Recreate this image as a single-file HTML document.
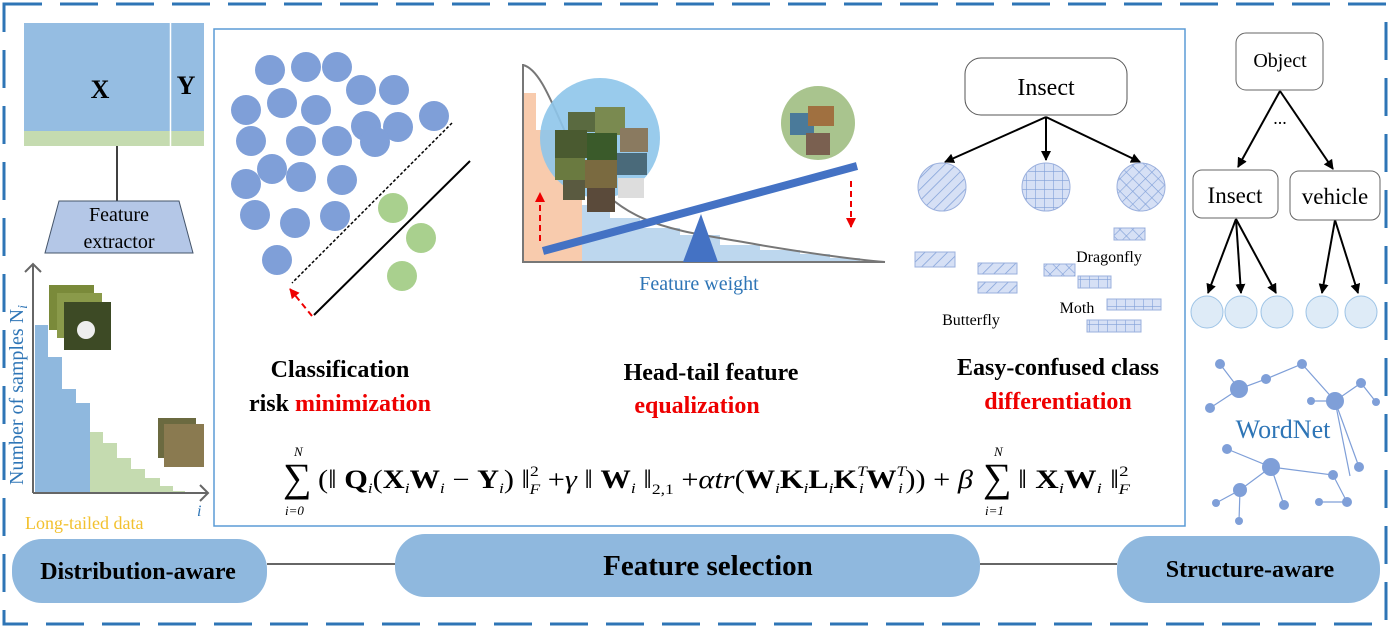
<!DOCTYPE html><html><head><meta charset="utf-8"><style>body{margin:0;background:#fff}svg{display:block;font-family:"Liberation Serif",serif}</style></head><body>
<svg width="1390" height="629" viewBox="0 0 1390 629" xmlns="http://www.w3.org/2000/svg">
<defs>
<pattern id="hd" width="8" height="8" patternUnits="userSpaceOnUse" patternTransform="rotate(45)"><rect width="8" height="8" fill="#d6e0f5"/><line x1="0" y1="0" x2="0" y2="8" stroke="#7f9fd8" stroke-width="1.5"/></pattern>
<pattern id="hg" width="9" height="9" patternUnits="userSpaceOnUse"><rect width="9" height="9" fill="#d6e0f5"/><path d="M0 0H9M0 0V9" stroke="#7f9fd8" stroke-width="1.2"/></pattern>
<pattern id="hx" width="9" height="9" patternUnits="userSpaceOnUse" patternTransform="rotate(45)"><rect width="9" height="9" fill="#d6e0f5"/><path d="M0 0H9M0 0V9" stroke="#7f9fd8" stroke-width="1.2"/></pattern>
<marker id="ak" markerWidth="10" markerHeight="10" refX="9" refY="5" orient="auto" markerUnits="userSpaceOnUse"><path d="M0 0L10 5L0 10z" fill="#000"/></marker>
<marker id="ar" markerWidth="10" markerHeight="10" refX="9" refY="5" orient="auto" markerUnits="userSpaceOnUse"><path d="M0 0L10 5L0 10z" fill="#e00"/></marker>
</defs>
<rect x="4" y="4" width="1382" height="620" fill="none" stroke="#2e75b6" stroke-width="3" stroke-dasharray="38,18"/>
<rect x="214" y="29" width="971" height="497" fill="none" stroke="#5b9bd5" stroke-width="1.5"/>
<rect x="24" y="23" width="180" height="123" fill="#95bde2"/>
<rect x="24" y="131" width="180" height="15" fill="#c5dbb0"/>
<line x1="170.5" y1="23" x2="170.5" y2="146" stroke="#fff" stroke-width="1.5"/>
<text x="100" y="98" font-size="26" font-weight="bold" text-anchor="middle">X</text>
<text x="186" y="94" font-size="26" font-weight="bold" text-anchor="middle">Y</text>
<line x1="117" y1="146" x2="117" y2="201" stroke="#000" stroke-width="1.5"/>
<path d="M59 201H179L193 253H45Z" fill="#b4c7e7" stroke="#44546a"/>
<text x="119" y="221" font-size="20" text-anchor="middle">Feature</text>
<text x="119" y="248" font-size="20" text-anchor="middle">extractor</text>
<path d="M35 493V325H48V357H62V389H76V403H90V493Z" fill="#8fb8de"/>
<path d="M90 493V432H103V443H117V458H131V469H145V478H160V486H173V491H185V493Z" fill="#c5dbb0"/>
<path d="M33 493V264M25 272L33 264L41 272M33 493H208M200 485L208 493L200 501" fill="none" stroke="#666" stroke-width="2"/>
<rect x="49" y="285" width="45" height="45" fill="#7a8a3a"/><rect x="57" y="293" width="45" height="45" fill="#8a9a4a"/><rect x="64" y="302" width="47" height="48" fill="#3d4a25"/><circle cx="86" cy="330" r="9" fill="#eee"/>
<rect x="158" y="418" width="38" height="40" fill="#6b6a40"/><rect x="164" y="424" width="40" height="43" fill="#8a7a50"/>
<text transform="translate(23,485) rotate(-90)" font-size="20" fill="#2e75b6">Number of samples N<tspan font-style="italic" font-size="14" dy="4">i</tspan></text>
<text x="197" y="516" font-size="16" font-style="italic" fill="#2e75b6">i</text>
<text x="25" y="529" font-size="18" fill="#f2c12e">Long-tailed data</text>
<g fill="#7f9fd8">
<circle cx="270" cy="70" r="15"/><circle cx="306" cy="67" r="15"/><circle cx="337" cy="67" r="15"/><circle cx="361" cy="90" r="15"/><circle cx="394" cy="90" r="15"/><circle cx="246" cy="110" r="15"/><circle cx="282" cy="103" r="15"/><circle cx="316" cy="110" r="15"/><circle cx="366" cy="126" r="15"/><circle cx="398" cy="127" r="15"/><circle cx="375" cy="142" r="15"/><circle cx="434" cy="116" r="15"/><circle cx="251" cy="141" r="15"/><circle cx="301" cy="141" r="15"/><circle cx="337" cy="141" r="15"/><circle cx="246" cy="184" r="15"/><circle cx="272" cy="169" r="15"/><circle cx="301" cy="177" r="15"/><circle cx="342" cy="180" r="15"/><circle cx="255" cy="215" r="15"/><circle cx="295" cy="223" r="15"/><circle cx="335" cy="216" r="15"/><circle cx="277" cy="260" r="15"/>
</g>
<g fill="#a9d08e"><circle cx="393" cy="208" r="15"/><circle cx="421" cy="238" r="15"/><circle cx="402" cy="276" r="15"/></g>
<line x1="452" y1="123" x2="292" y2="283" stroke="#000" stroke-width="1.5" stroke-dasharray="3,2"/>
<line x1="470" y1="161" x2="314" y2="315" stroke="#000" stroke-width="2"/>
<line x1="312" y1="316" x2="290" y2="289" stroke="#e00" stroke-width="2" stroke-dasharray="6,4" marker-end="url(#ar)"/>
<path d="M523 262V93H536V130H582V262Z" fill="#f8cbad"/>
<path d="M582 262V205H610V218H640V228H680V235H720V245H760V250H800V254H830V258H860V262Z" fill="#bdd7ee"/>
<path d="M523 65C545 70 560 130 580 160C620 230 680 230 760 245C820 255 860 260 885 262" fill="none" stroke="#777" stroke-width="2"/>
<path d="M523 64V262H885" fill="none" stroke="#777" stroke-width="2"/>
<circle cx="600" cy="138" r="60" fill="#8ec5ea" opacity="0.9"/>
<g><rect x="568" y="112" width="28" height="20" fill="#5a6a40"/><rect x="595" y="107" width="30" height="28" fill="#7a8a50"/><rect x="555" y="130" width="32" height="28" fill="#4a5a30"/><rect x="587" y="133" width="30" height="28" fill="#3a5a2a"/><rect x="620" y="128" width="28" height="24" fill="#8a7a60"/><rect x="555" y="158" width="30" height="22" fill="#6a7a40"/><rect x="585" y="160" width="32" height="28" fill="#7a6a40"/><rect x="617" y="153" width="30" height="22" fill="#4a6a7a"/><rect x="563" y="180" width="22" height="20" fill="#5a5a40"/><rect x="587" y="188" width="28" height="24" fill="#5a4a3a"/><rect x="618" y="178" width="26" height="20" fill="#ddd"/></g>
<circle cx="818" cy="123" r="37" fill="#a9c48e"/>
<rect x="790" y="113" width="24" height="22" fill="#4a7a9a"/><rect x="808" y="106" width="26" height="20" fill="#a07040"/><rect x="806" y="133" width="24" height="22" fill="#7a6050"/>
<line x1="543" y1="251" x2="857" y2="166" stroke="#4472c4" stroke-width="8"/>
<path d="M701 214L683 262H718Z" fill="#4472c4"/>
<line x1="540" y1="241" x2="540" y2="193" stroke="#e00" stroke-width="2" stroke-dasharray="6,4" marker-end="url(#ar)"/>
<line x1="851" y1="181" x2="851" y2="227" stroke="#e00" stroke-width="2" stroke-dasharray="6,4" marker-end="url(#ar)"/>
<text x="699" y="290" font-size="20" fill="#2e75b6" text-anchor="middle">Feature weight</text>
<rect x="965" y="58" width="162" height="57" rx="16" fill="#fff" stroke="#555"/>
<text x="1046" y="95" font-size="24" text-anchor="middle">Insect</text>
<g stroke="#000" stroke-width="2" marker-end="url(#ak)"><line x1="1046" y1="117" x2="945" y2="162"/><line x1="1046" y1="117" x2="1046" y2="160"/><line x1="1046" y1="117" x2="1140" y2="162"/></g>
<circle cx="942" cy="187" r="24" fill="url(#hd)" stroke="#9bb0dd"/>
<circle cx="1046" cy="187" r="24" fill="url(#hg)" stroke="#9bb0dd"/>
<circle cx="1141" cy="187" r="24" fill="url(#hx)" stroke="#9bb0dd"/>
<g stroke="#9bb0dd"><rect x="915" y="252" width="40" height="15" fill="url(#hd)"/><rect x="978" y="263" width="39" height="11" fill="url(#hd)"/><rect x="978" y="282" width="39" height="11" fill="url(#hd)"/><rect x="1114" y="228" width="31" height="12" fill="url(#hx)"/><rect x="1044" y="264" width="31" height="12" fill="url(#hx)"/><rect x="1078" y="276" width="33" height="12" fill="url(#hg)"/><rect x="1107" y="299" width="54" height="11" fill="url(#hg)"/><rect x="1087" y="320" width="54" height="12" fill="url(#hg)"/></g>
<text x="971" y="325" font-size="16" text-anchor="middle">Butterfly</text>
<text x="1109" y="262" font-size="16" text-anchor="middle">Dragonfly</text>
<text x="1077" y="313" font-size="16" text-anchor="middle">Moth</text>
<g font-weight="bold" font-size="24" text-anchor="middle">
<text x="340" y="377">Classification</text>
<text x="340" y="411">risk <tspan fill="#e00">minimization</tspan></text>
<text x="711" y="380">Head-tail feature</text>
<text x="697" y="413" fill="#e00">equalization</text>
<text x="1058" y="375">Easy-confused class</text>
<text x="1058" y="409" fill="#e00">differentiation</text>
</g>
<g font-size="26">
<text x="283" y="491" font-size="40">∑</text>
<text x="294" y="456" font-size="13" font-style="italic">N</text>
<text x="285" y="515" font-size="13" font-style="italic">i=0</text>
<text x="318" y="488" textLength="655" lengthAdjust="spacingAndGlyphs">(‖ <tspan font-weight="bold">Q</tspan><tspan font-size="15" font-style="italic" dy="5">i</tspan><tspan dy="-5">(</tspan><tspan font-weight="bold">X</tspan><tspan font-size="15" font-style="italic" dy="5">i</tspan><tspan dy="-5" font-weight="bold">W</tspan><tspan font-size="15" font-style="italic" dy="5">i</tspan><tspan dy="-5"> − </tspan><tspan font-weight="bold">Y</tspan><tspan font-size="15" font-style="italic" dy="5">i</tspan><tspan dy="-5">) ‖</tspan><tspan font-size="15" dy="-12">2</tspan><tspan font-size="15" font-style="italic" dx="-8" dy="18">F</tspan><tspan dy="-6"> +</tspan><tspan font-style="italic">γ</tspan> ‖ <tspan font-weight="bold">W</tspan><tspan font-size="15" font-style="italic" dy="5">i</tspan><tspan dy="-5"> ‖</tspan><tspan font-size="15" dy="6">2,1</tspan><tspan dy="-6"> +</tspan><tspan font-style="italic">αtr</tspan>(<tspan font-weight="bold">W</tspan><tspan font-size="15" font-style="italic" dy="5">i</tspan><tspan dy="-5" font-weight="bold">K</tspan><tspan font-size="15" font-style="italic" dy="5">i</tspan><tspan dy="-5" font-weight="bold">L</tspan><tspan font-size="15" font-style="italic" dy="5">i</tspan><tspan dy="-5" font-weight="bold">K</tspan><tspan font-size="15" font-style="italic" dy="-12">T</tspan><tspan font-size="15" font-style="italic" dx="-6" dy="17">i</tspan><tspan dy="-5" dx="2" font-weight="bold">W</tspan><tspan font-size="15" font-style="italic" dy="-12">T</tspan><tspan font-size="15" font-style="italic" dx="-6" dy="17">i</tspan><tspan dy="-5" dx="2">)) + </tspan><tspan font-style="italic">β</tspan></text>
<text x="983" y="491" font-size="40">∑</text>
<text x="994" y="456" font-size="13" font-style="italic">N</text>
<text x="985" y="515" font-size="13" font-style="italic">i=1</text>
<text x="1018" y="488" textLength="112" lengthAdjust="spacingAndGlyphs">‖ <tspan font-weight="bold">X</tspan><tspan font-size="15" font-style="italic" dy="5">i</tspan><tspan dy="-5" font-weight="bold">W</tspan><tspan font-size="15" font-style="italic" dy="5">i</tspan><tspan dy="-5"> ‖</tspan><tspan font-size="15" dy="-12">2</tspan><tspan font-size="15" font-style="italic" dx="-8" dy="18">F</tspan></text>
</g>
<rect x="1236" y="33" width="87" height="57" rx="10" fill="#fff" stroke="#666"/>
<text x="1280" y="67" font-size="20" text-anchor="middle">Object</text>
<text x="1280" y="124" font-size="18" text-anchor="middle">...</text>
<g stroke="#000" stroke-width="2" marker-end="url(#ak)"><line x1="1280" y1="91" x2="1238" y2="167"/><line x1="1280" y1="91" x2="1333" y2="169"/>
<line x1="1236" y1="219" x2="1208" y2="293"/><line x1="1236" y1="219" x2="1241" y2="293"/><line x1="1236" y1="219" x2="1276" y2="293"/><line x1="1335" y1="220" x2="1322" y2="293"/><line x1="1335" y1="220" x2="1358" y2="293"/></g>
<rect x="1193" y="170" width="85" height="48" rx="9" fill="#fff" stroke="#666"/>
<text x="1235" y="203" font-size="23" text-anchor="middle">Insect</text>
<rect x="1290" y="171" width="90" height="49" rx="9" fill="#fff" stroke="#666"/>
<text x="1335" y="204" font-size="23" text-anchor="middle">vehicle</text>
<g fill="#deebf7" stroke="#9dc3e6"><circle cx="1207" cy="312" r="16"/><circle cx="1241" cy="312" r="16"/><circle cx="1277" cy="312" r="16"/><circle cx="1322" cy="312" r="16"/><circle cx="1361" cy="312" r="16"/></g>
<g stroke="#7f9fd8" stroke-width="1.2" fill="none"><path d="M1220 364L1239 389L1266 379L1302 364L1335 401L1361 383L1376 402M1311 401H1335L1359 467M1335 401L1350 476M1227 449L1271 467L1333 475L1347 502H1319M1271 467L1240 490L1216 503M1240 490L1239 521M1271 467L1284 505M1239 389L1210 408"/></g>
<g fill="#7f9fd8"><circle cx="1220" cy="364" r="5"/><circle cx="1239" cy="389" r="9"/><circle cx="1266" cy="379" r="5"/><circle cx="1302" cy="364" r="5"/><circle cx="1335" cy="401" r="9"/><circle cx="1361" cy="383" r="5"/><circle cx="1376" cy="402" r="4"/><circle cx="1311" cy="401" r="4"/><circle cx="1210" cy="408" r="5"/><circle cx="1359" cy="467" r="5"/><circle cx="1227" cy="449" r="5"/><circle cx="1271" cy="467" r="9"/><circle cx="1333" cy="475" r="5"/><circle cx="1347" cy="502" r="5"/><circle cx="1319" cy="502" r="4"/><circle cx="1240" cy="490" r="7"/><circle cx="1216" cy="503" r="4"/><circle cx="1239" cy="521" r="4"/><circle cx="1284" cy="505" r="5"/></g>
<text x="1283" y="438" font-size="26" fill="#2e75b6" text-anchor="middle">WordNet</text>
<line x1="267" y1="564" x2="395" y2="564" stroke="#333" stroke-width="1.5"/>
<line x1="980" y1="564" x2="1117" y2="564" stroke="#333" stroke-width="1.5"/>
<rect x="12" y="539" width="255" height="64" rx="30" fill="#8fb8de"/>
<rect x="395" y="534" width="585" height="63" rx="30" fill="#8fb8de"/>
<rect x="1117" y="536" width="263" height="67" rx="32" fill="#8fb8de"/>
<g font-weight="bold" text-anchor="middle">
<text x="138" y="579" font-size="24">Distribution-aware</text>
<text x="708" y="575" font-size="29">Feature selection</text>
<text x="1250" y="577" font-size="24">Structure-aware</text>
</g>
</svg>
</body></html>
